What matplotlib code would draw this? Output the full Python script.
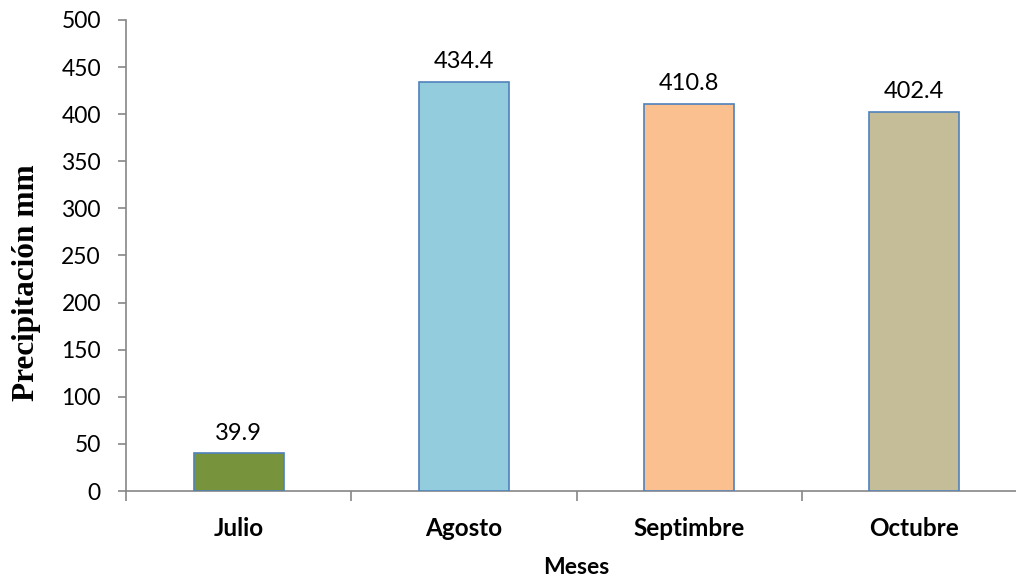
import matplotlib
matplotlib.use("Agg")
import matplotlib.pyplot as plt
import numpy as np

meses = ["Julio", "Agosto", "Septimbre", "Octubre"]
precipitacion = [39.9, 434.4, 410.8, 402.4]
colores = ["#77933C", "#93CDDD", "#FAC090", "#C4BD97"]
yticks = [0, 50, 100, 150, 200, 250, 300, 350, 400, 450, 500]

plt.rcParams["font.family"] = ["Lato", "DejaVu Sans"]

fig = plt.figure(figsize=(10.16, 5.80), dpi=100)
ax = fig.add_axes([126 / 1016, 1 - 491 / 580, (1027 - 126) / 1016, (491 - 20) / 580])

x = np.arange(len(meses))
ax.bar(x, precipitacion, width=0.4, color=colores,
       edgecolor="#4F81BD", linewidth=1.2, zorder=3)

for xi, v in zip(x, precipitacion):
    ax.annotate(f"{v:.1f}", (xi, v), xytext=(0, 7), textcoords="offset points",
                ha="center", va="bottom", fontsize=17, color="black")

ax.set_xlim(-0.5, len(meses) - 0.5)
ax.set_ylim(0, 500)
ax.set_yticks(yticks)
ax.tick_params(axis="y", labelsize=16.5, length=6, width=1.2, color="#868686", pad=12)

ax.set_xticks(x)
ax.set_xticklabels(meses, fontsize=17.5, fontweight="bold")
ax.tick_params(axis="x", length=0, pad=19)
ax.set_xticks(np.arange(-0.5, len(meses)), minor=True)
ax.tick_params(axis="x", which="minor", length=7, width=1.2, color="#868686")

for s in ["top", "right"]:
    ax.spines[s].set_visible(False)
for s in ["left", "bottom"]:
    ax.spines[s].set_color("#868686")
    ax.spines[s].set_linewidth(1.2)

ax.set_xlabel("Meses", fontsize=16.5, fontweight="bold", va="center")
ax.xaxis.set_label_coords(0.5, (491 - 567) / 471)
ax.set_ylabel("Precipitación mm", fontsize=22.5, fontweight="bold",
              family=["Liberation Serif"], va="center")
ax.yaxis.set_label_coords((27 - 126) / 901, (491 - 283) / 471)

fig.savefig("out.png", dpi=100)
